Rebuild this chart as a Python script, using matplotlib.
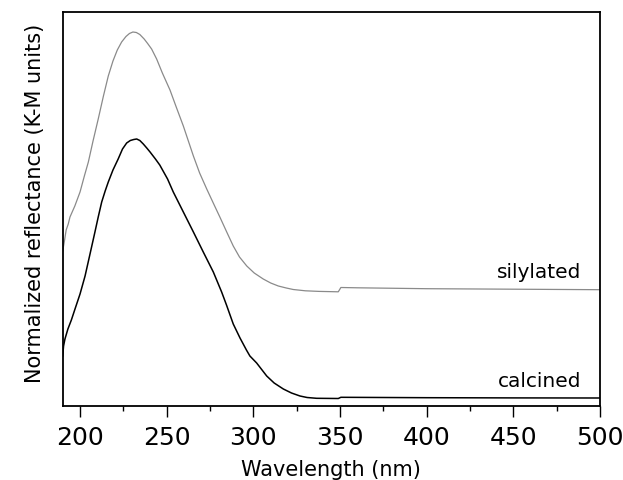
import matplotlib
matplotlib.use("Agg")
import matplotlib.pyplot as plt
from matplotlib.ticker import MultipleLocator

# Wavelength (nm) and normalized K-M reflectance (arbitrary units)
sil_wl = [190.0, 191.0, 192.0, 193.2, 194.2, 197.0, 200.0, 202.5, 204.8, 207.5,
          210.5, 213.5, 216.3, 219.0, 221.5, 224.0, 226.5, 228.5, 230.5, 232.5,
          234.5, 237.0, 239.0, 241.3, 244.2, 247.5, 251.9, 255.5, 259.6, 262.5,
          265.4, 269.0, 273.1, 277.0, 280.8, 284.5, 288.4, 292.0, 296.2, 300.5,
          305.7, 310.0, 314.4, 319.0, 323.0, 330.0, 338.0, 349.0, 350.5, 360.0,
          400.0, 450.0, 500.0]
sil_val = [155, 165, 176, 182, 189, 200, 214, 230, 244, 265,
           287, 310, 330, 345, 356, 364, 369.5, 372.5, 374, 373.5,
           371.5, 367, 362.5, 357, 347, 333, 316, 299, 280, 265,
           250, 233, 217, 202.5, 188.5, 174.5, 160, 149, 140, 133,
           127, 123, 120, 118, 116.5, 115.2, 114.6, 114.2, 118.5, 118.2,
           117.3, 116.8, 116.3]

cal_wl = [190.0, 190.5, 191.3, 193.0, 195.0, 197.1, 200.0, 202.9, 205.5, 208.6,
          210.5, 212.5, 214.5, 216.3, 219.0, 222.0, 224.5, 226.9, 229.0, 231.0,
          232.7, 234.5, 236.5, 238.5, 240.4, 243.5, 246.0, 250.5, 253.8, 259.6,
          265.4, 271.1, 276.9, 281.7, 284.5, 288.4, 292.3, 296.0, 298.0, 301.9,
          307.7, 312.0, 317.3, 322.0, 326.9, 331.0, 336.5, 349.0, 350.5, 400.0,
          450.0, 500.0]
cal_val = [50, 60, 67, 77, 86, 97, 112, 130, 150, 174,
           189, 204, 215, 224, 236, 247, 257, 263, 265.5, 266.5,
           267, 265.5, 262, 258, 254, 247, 241, 227, 214, 194,
           174, 154, 134, 114, 101, 82, 68, 56, 50, 43,
           30, 23, 17, 13, 10, 8.5, 7.7, 7.5, 8.7, 8.3,
           8.1, 8.0]

x_ticks = [200, 250, 300, 350, 400, 450, 500]
labels = ["silylated", "calcined"]
label_pos_x = 489.4
label_pos_y = [128.7, 20.3]

plt.rcParams['font.family'] = ['DejaVu Sans']

fig = plt.figure(figsize=(6.23, 4.81), dpi=100)
ax = fig.add_axes([62.7/623, 74/481, (600-62.7)/623, (407-13)/481])

ax.plot(sil_wl, sil_val, color="#8a8a8a", lw=0.9)
ax.plot(cal_wl, cal_val, color="black", lw=1.1)

ax.set_xlim(190, 500)
ax.set_ylim(0, 394)
ax.set_xticks(x_ticks)
ax.xaxis.set_minor_locator(MultipleLocator(25))
ax.set_yticks([])
ax.tick_params(axis="x", which="major", direction="out", length=8, width=1.0,
               pad=6, labelsize=18)
ax.tick_params(axis="x", which="minor", direction="out", length=3.5, width=1.0)
for s in ax.spines.values():
    s.set_linewidth(1.3)

ax.text(label_pos_x, label_pos_y[0], labels[0], ha="right", va="baseline", fontsize=14.5)
ax.text(label_pos_x, label_pos_y[1], labels[1], ha="right", va="baseline", fontsize=14.5)

fig.text(331/623, 5/481, "Wavelength (nm)", ha="center", va="baseline", fontsize=15)
fig.text(35/623, (481-203)/481, "Normalized reflectance (K-M units)", rotation=90,
         ha="center", va="center", fontsize=15)

fig.savefig("out.png", dpi=100)
